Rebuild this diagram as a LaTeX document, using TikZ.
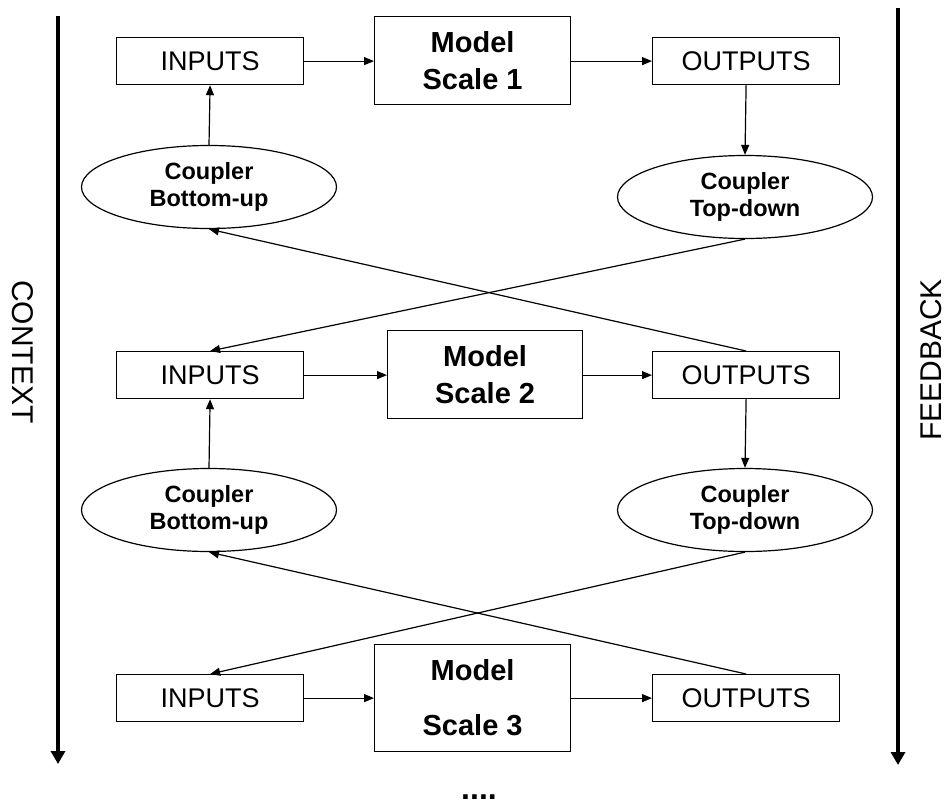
\documentclass[tikz,border=0pt]{standalone}
\usepackage{fontspec}
\setmainfont{Liberation Sans}
\usetikzlibrary{arrows.meta,shapes.geometric}

\tikzset{
  box/.style={draw, line width=1.2pt, inner sep=0pt, anchor=north west},
  plain/.style={font=\fontsize{27}{32}\selectfont},
  modeltxt/.style={font=\bfseries\fontsize{29}{37}\selectfont, align=center},
  coupler/.style={draw, line width=1.2pt, ellipse, minimum width=255pt, minimum height=83pt, inner sep=0pt,
    font=\bfseries\fontsize{23.5}{26.5}\selectfont, align=center},
  link/.style={line width=1.2pt, -{Triangle[length=10pt,width=8pt]}},
  axis/.style={line width=4pt, -{Triangle[length=13pt,width=14pt]}},
  sidelabel/.style={font=\fontsize{30}{36}\selectfont, inner sep=0pt}
}

\begin{document}
\begin{tikzpicture}[x=1pt,y=-1pt]
\useasboundingbox (0,0) rectangle (947,809);

% side axes
\coordinate (ctxtop) at (58,16);
\coordinate (ctxbot) at (58,764);
\coordinate (fbtop) at (898,8);
\coordinate (fbbot) at (898,765);
\draw[axis] (ctxtop) -- (ctxbot);
\draw[axis] (fbtop) -- (fbbot);
\node[sidelabel, rotate=-90] (context) at (23,352) {CONTEXT};
\node[sidelabel, rotate=90] (feedback) at (931,360) {FEEDBACK};

% scale 1
\node[box, minimum width=187pt, minimum height=47pt, plain] (in1) at (116,37) {INPUTS};
\node[box, minimum width=196pt, minimum height=88pt, modeltxt] (m1) at (374,16) {Model\\Scale 1};
\node[box, minimum width=187pt, minimum height=47pt, plain] (out1) at (652,37) {OUTPUTS};
\node[coupler] (bu1) at (209,187) {Coupler\\Bottom-up};
\node[coupler] (td1) at (745,197) {Coupler\\Top-down};

% scale 2
\node[box, minimum width=187pt, minimum height=47pt, plain] (in2) at (116,351) {INPUTS};
\node[box, minimum width=195pt, minimum height=88pt, modeltxt] (m2) at (387,330) {Model\\Scale 2};
\node[box, minimum width=187pt, minimum height=47pt, plain] (out2) at (652,351) {OUTPUTS};
\node[coupler] (bu2) at (209,510) {Coupler\\Bottom-up};
\node[coupler] (td2) at (745,510) {Coupler\\Top-down};

% scale 3
\node[box, minimum width=187pt, minimum height=47pt, plain] (in3) at (116,674) {INPUTS};
\node[box, minimum width=196pt, minimum height=107pt,
      font=\bfseries\fontsize{29}{55}\selectfont, align=center] (m3) at (374,644) {Model\\Scale 3};
\node[box, minimum width=187pt, minimum height=47pt, plain] (out3) at (652,674) {OUTPUTS};

\node[font=\bfseries\fontsize{32}{36}\selectfont, inner sep=0pt] (more) at (479,797) {....};

% horizontal flow
\draw[link] (in1.east) -- (in1.east -| m1.west);
\draw[link] (out1.west -| m1.east) -- (out1.west);
\draw[link] (in2.east) -- (in2.east -| m2.west);
\draw[link] (out2.west -| m2.east) -- (out2.west);
\draw[link] (in3.east) -- (in3.east -| m3.west);
\draw[link] (out3.west -| m3.east) -- (out3.west);

% vertical couplings
\draw[link] (bu1.north) -- (in1.south);
\draw[link] (out1.south) -- (td1.north);
\draw[link] (bu2.north) -- (in2.south);
\draw[link] (out2.south) -- (td2.north);

% crossing couplings
\draw[link] (td1.south) -- (in2.north);
\draw[link] (out2.north) -- (bu1.south);
\draw[link] (td2.south) -- (in3.north);
\draw[link] (out3.north) -- (bu2.south);
\end{tikzpicture}
\end{document}
